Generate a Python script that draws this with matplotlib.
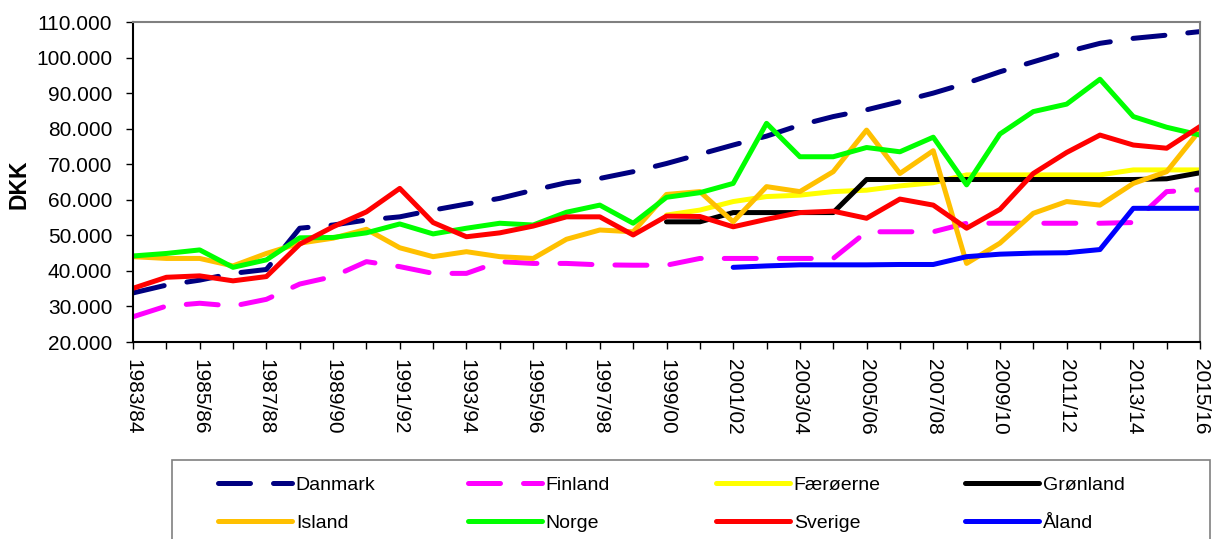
import numpy as np
import matplotlib
matplotlib.use('Agg')
import matplotlib.pyplot as plt
from matplotlib.patches import Rectangle

plt.rcParams['font.family'] = ['Liberation Sans', 'DejaVu Sans']

years = ['1983/84', '1984/85', '1985/86', '1986/87', '1987/88', '1988/89', '1989/90',
         '1990/91', '1991/92', '1992/93', '1993/94', '1994/95', '1995/96', '1996/97',
         '1997/98', '1998/99', '1999/00', '2000/01', '2001/02', '2002/03', '2003/04',
         '2004/05', '2005/06', '2006/07', '2007/08', '2008/09', '2009/10', '2010/11',
         '2011/12', '2012/13', '2013/14', '2014/15', '2015/16']

nan = np.nan
danmark = [33800, 36000, 37400, 39300, 40400, 52000, 52900, 54300, 55200, 57100, 58800,
           60400, 62700, 64800, 66000, 67900, 70200, 72800, 75400, 77900, 81000, 83400,
           85300, 87600, 90000, 92800, 96000, 98800, 101600, 104000, 105400, 106300, 107300]
finland = [27100, 30100, 30900, 30100, 32000, 36300, 38400, 42600, 41200, 39300, 39300,
           42600, 42100, 42100, 41700, 41600, 41600, 43500, 43500, 43500, 43500, 43500,
           51000, 51000, 51000, 53400, 53400, 53400, 53400, 53400, 53600, 62300, 62800]
faeroerne = [nan] * 16 + [55700, 57100, 59500, 60900, 61300, 62300, 62700, 63900, 64800,
                          67000, 67000, 67000, 67000, 67000, 68400, 68400, 68400]
groenland = [nan] * 16 + [53800, 53800, 56400, 56400, 56400, 56400, 65700, 65700, 65700,
                          65700, 65700, 65700, 65700, 65700, 65700, 65900, 67600]
island = [44000, 43500, 43500, 41400, 44900, 47800, 49200, 51700, 46500, 44000, 45400,
          44000, 43500, 48900, 51500, 51000, 61500, 62300, 53800, 63700, 62300, 67900,
          79600, 67400, 73800, 42100, 47800, 56200, 59500, 58500, 64600, 67900, 79600]
norge = [44200, 44900, 45900, 41000, 43100, 49300, 49400, 50700, 53200, 50400, 52000,
         53400, 52900, 56500, 58500, 53400, 60700, 62000, 64600, 81500, 72100, 72100,
         74700, 73500, 77600, 64200, 78500, 84800, 86900, 93900, 83400, 80400, 78200]
sverige = [35100, 38200, 38600, 37200, 38400, 47500, 52400, 56600, 63200, 53600, 49600,
           50700, 52600, 55200, 55200, 50100, 55400, 55300, 52400, 54500, 56400, 56800,
           54800, 60200, 58500, 52000, 57300, 67400, 73300, 78200, 75400, 74500, 80600]
aaland = [nan] * 18 + [41000, 41400, 41700, 41700, 41700, 41800, 41800,
                       44000, 44700, 45000, 45100, 46000, 57600, 57600, 57600]

names = ['Danmark', 'Finland', 'Færøerne', 'Grønland', 'Island', 'Norge', 'Sverige', 'Åland']
series = [danmark, finland, faeroerne, groenland, island, norge, sverige, aaland]
colors = ['#000080', '#FF00FF', '#FFFF00', '#000000', '#FFC000', '#00FF00', '#FF0000', '#0000FF']
dashed = [True, True, False, False, False, False, False, False]

W, H = 1212, 539
fig = plt.figure(figsize=(W / 100, H / 100), dpi=100)
ax = fig.add_axes([133 / W, 1 - 342 / H, (1200 - 133) / W, (342 - 22) / H])

x = np.arange(len(years))
handles = []
for name, vals, col, dsh in zip(names, series, colors, dashed):
    line, = ax.plot(x, np.array(vals, dtype=float), color=col, lw=3.6, label=name,
                    solid_capstyle='round', dash_capstyle='round', solid_joinstyle='round')
    if dsh:
        line.set_dashes((6.4, 4.6))
    handles.append(line)

ax.set_xlim(0, len(years) - 1)
ax.set_ylim(20000, 110000)
ax.set_yticks(np.arange(20000, 110001, 10000))
ax.set_yticklabels([f'{v / 1000:.3f}' for v in np.arange(20000, 110001, 10000)], fontsize=15)
ax.set_xticks(x)
ax.set_xticklabels([y if i % 2 == 0 else '' for i, y in enumerate(years)],
                   rotation=-90, fontsize=15)
ax.tick_params(axis='both', direction='out', length=5, width=1, color='black')
ax.tick_params(axis='y', pad=10)
ax.tick_params(axis='x', pad=7)

for s in ['top', 'right']:
    ax.spines[s].set_color('#808080')
    ax.spines[s].set_linewidth(1.5)
for s in ['left', 'bottom']:
    ax.spines[s].set_color('black')
    ax.spines[s].set_linewidth(1.5)

ax.set_ylabel('DKK', fontsize=16.5, fontweight='bold')
ax.yaxis.set_label_coords(-0.0965, 0.494)

# legend frame (cut off at the bottom like the original)
fig.patches.append(Rectangle((172 / W, -0.05), (1210 - 172) / W, 1 - 460 / H + 0.05,
                             transform=fig.transFigure, fill=False,
                             edgecolor='#808080', lw=1.2))

# one legend per column so the columns are evenly spaced
col_x = [218, 468, 716, 965]
for c in range(4):
    hs = [handles[c], handles[c + 4]]
    fig.legend(handles=hs, loc='upper left',
               bbox_to_anchor=(col_x[c] / W, 1 - 476 / H),
               frameon=False, fontsize=14, handlelength=3.8, handletextpad=0.2,
               labelspacing=1.05, borderaxespad=0, borderpad=0)

fig.savefig('out.png', dpi=100)
